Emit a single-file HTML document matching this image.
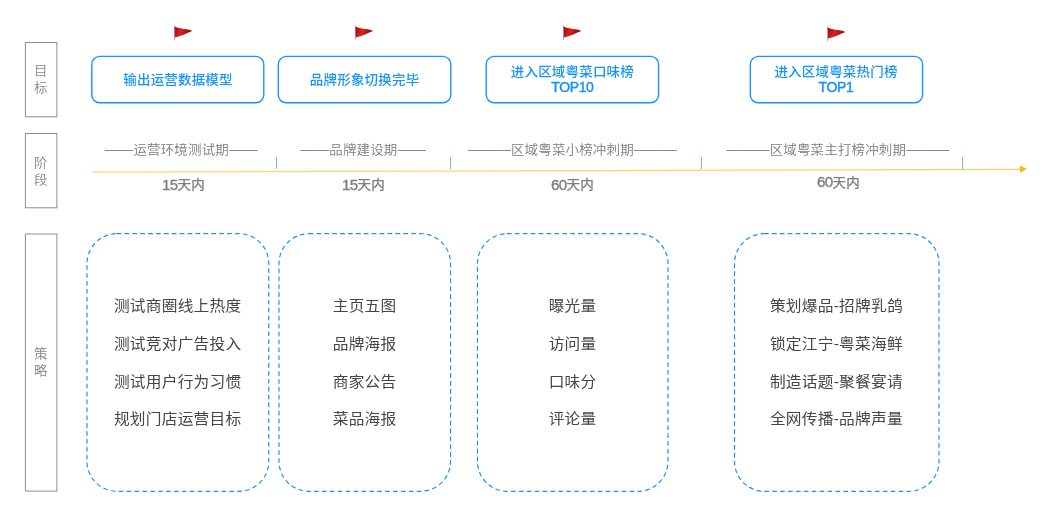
<!DOCTYPE html>
<html lang="zh-CN">
<head>
<meta charset="utf-8">
<title>运营策略路线图</title>
<style>
html,body{margin:0;padding:0;background:#fff;}
body{width:1048px;height:514px;position:relative;overflow:hidden;font-family:"Liberation Sans","Noto Sans CJK SC",sans-serif;}
#bg{position:absolute;left:0;top:0;width:1048px;height:514px;}
.t{position:absolute;white-space:nowrap;text-align:center;transform:translateX(-50%);}
#tx{position:absolute;left:0;top:0;width:1048px;height:514px;will-change:opacity;}
.lab{font-size:13.4px;line-height:16.8px;color:#858585;font-weight:350;white-space:normal;width:15px;transform:translateX(-50%) scaleY(0.96);transform-origin:50% 50%;}
.goal{font-size:13.5px;line-height:15.2px;color:#1593ff;font-weight:500;letter-spacing:0.18px;}
.stage{font-size:13.5px;line-height:16px;color:#7c7c7c;font-weight:350;letter-spacing:0.15px;transform:translateX(-50%) scaleY(0.93);transform-origin:50% 75%;}
.goal b{font-weight:400;font-size:14px;line-height:15px;letter-spacing:-0.35px;-webkit-text-stroke:0.45px #1593ff;position:relative;top:0.4px;}
.goal .c{display:inline-block;transform:scaleY(0.94);transform-origin:50% 65%;}
.days .c{display:inline-block;transform:scaleY(0.93);transform-origin:50% 80%;position:relative;top:-0.55px;}
.days i{font-style:normal;font-size:15.2px;letter-spacing:-0.65px;}
.stage span{font-size:14.35px;line-height:16px;letter-spacing:0;}
.days{font-size:13.5px;line-height:16px;color:#7e7e7e;font-weight:400;-webkit-text-stroke:0.35px #7e7e7e;letter-spacing:0.2px;}
.st{font-size:15.7px;line-height:39.8px;color:#454545;font-weight:400;letter-spacing:0.25px;transform:translateX(-50%) scaleY(0.95);transform-origin:50% 0;}
</style>
</head>
<body>
<svg id="bg" width="1048" height="514" viewBox="0 0 1048 514">
  <defs>
    <linearGradient id="fg" x1="0" y1="0" x2="1" y2="0.25">
      <stop offset="0" stop-color="#aa0303"/>
      <stop offset="0.45" stop-color="#d62424"/>
      <stop offset="0.82" stop-color="#b20808"/>
      <stop offset="1" stop-color="#8a0000"/>
    </linearGradient>
    <linearGradient id="yl" gradientUnits="userSpaceOnUse" x1="92" y1="0" x2="1021" y2="0">
      <stop offset="0" stop-color="#ffda7a"/>
      <stop offset="1" stop-color="#ffcf58"/>
    </linearGradient>
    
  </defs>
  <!-- label boxes -->
  <rect x="25.4" y="42.5" width="31.5" height="74.3" fill="#fff" stroke="#8e8e8e" stroke-width="1"/>
  <rect x="25.4" y="133.5" width="31.5" height="74.3" fill="#fff" stroke="#8e8e8e" stroke-width="1"/>
  <rect x="25.4" y="234" width="31.5" height="257.1" fill="#fff" stroke="#8e8e8e" stroke-width="1"/>
  <!-- flags -->
  <g transform="translate(174.4 25.2)"><line x1="0.1" y1="0" x2="0.1" y2="15.2" stroke="#7c8fa3" stroke-width="0.7"/>
      <path d="M0.3 1.4 C2.6 3.1 8.5 3.5 14.8 4.5 L17.9 5.8 C13 7.6 7 11.2 0.4 12.3 Z" fill="url(#fg)"/></g>
  <g transform="translate(355.2 25.2)"><line x1="0.1" y1="0" x2="0.1" y2="15.2" stroke="#7c8fa3" stroke-width="0.7"/>
      <path d="M0.3 1.4 C2.6 3.1 8.5 3.5 14.8 4.5 L17.9 5.8 C13 7.6 7 11.2 0.4 12.3 Z" fill="url(#fg)"/></g>
  <g transform="translate(563.4 25.2)"><line x1="0.1" y1="0" x2="0.1" y2="15.2" stroke="#7c8fa3" stroke-width="0.7"/>
      <path d="M0.3 1.4 C2.6 3.1 8.5 3.5 14.8 4.5 L17.9 5.8 C13 7.6 7 11.2 0.4 12.3 Z" fill="url(#fg)"/></g>
  <g transform="translate(827.5 26.2)"><line x1="0.1" y1="0" x2="0.1" y2="15.2" stroke="#7c8fa3" stroke-width="0.7"/>
      <path d="M0.3 1.4 C2.6 3.1 8.5 3.5 14.8 4.5 L17.9 5.8 C13 7.6 7 11.2 0.4 12.3 Z" fill="url(#fg)"/></g>
  <!-- goal boxes -->
  <g fill="#fff" stroke="#1593ff" stroke-width="1.4">
    <rect x="91.8" y="56.4" width="172" height="46.4" rx="8" ry="8"/>
    <rect x="278.3" y="56.4" width="172.5" height="46.4" rx="8" ry="8"/>
    <rect x="486.2" y="56.4" width="172.4" height="46.4" rx="8" ry="8"/>
    <rect x="750.3" y="56.4" width="172.3" height="46.4" rx="8" ry="8"/>
  </g>
  <!-- timeline -->
  <line x1="92.4" y1="172" x2="1021" y2="169.25" stroke="url(#yl)" stroke-width="1.25"/>
  <path d="M1020 165.5 L1026.9 169.1 L1020 172.7 Z" fill="#ffb811"/>
  <g stroke="#7fb0e6" stroke-width="1">
    <line x1="276.5" y1="157" x2="276.5" y2="169"/>
    <line x1="450.5" y1="157" x2="450.5" y2="169"/>
    <line x1="701.5" y1="157" x2="701.5" y2="169"/>
    <line x1="962.5" y1="157" x2="962.5" y2="169"/>
  </g>
  <!-- strategy dashed boxes -->
  <g fill="none" stroke="#1593ff" stroke-width="1.2" stroke-dasharray="3.75 4.15" stroke-linecap="round">
    <rect x="87" y="233.65" width="181.75" height="257.65" rx="30" ry="30"/>
    <rect x="279" y="233.65" width="171.55" height="257.65" rx="30" ry="30"/>
    <rect x="477.45" y="233.65" width="190.55" height="257.65" rx="30" ry="30"/>
    <rect x="734.5" y="233.65" width="204.5" height="257.65" rx="30" ry="30"/>
  </g>
</svg>

<div id="tx">
<div class="t lab" style="left:40.8px;top:63.2px;">目标</div>
<div class="t lab" style="left:40.8px;top:154.9px;">阶段</div>
<div class="t lab" style="left:40.8px;top:346.2px;">策略</div>

<div class="t goal" style="left:178px;top:72.1px;"><span class="c">输出运营数据模型</span></div>
<div class="t goal" style="left:364.6px;top:72.1px;"><span class="c">品牌形象切换完毕</span></div>
<div class="t goal" style="left:572.4px;top:64.3px;"><span class="c">进入区域粤菜口味榜</span><br><b>TOP10</b></div>
<div class="t goal" style="left:836px;top:64.3px;"><span class="c">进入区域粤菜热门榜</span><br><b>TOP1</b></div>

<div class="t stage" style="left:181.2px;top:140.8px;"><span>——</span>运营环境测试期<span>——</span></div>
<div class="t stage" style="left:363.4px;top:140.8px;"><span>——</span>品牌建设期<span>——</span></div>
<div class="t stage" style="left:572.4px;top:140.8px;"><span>———</span>区域粤菜小榜冲刺期<span>———</span></div>
<div class="t stage" style="left:837.9px;top:140.8px;"><span>———</span>区域粤菜主打榜冲刺期<span>———</span></div>

<div class="t days" style="left:183.5px;top:176.5px;"><i>15</i><span class="c">天内</span></div>
<div class="t days" style="left:363.5px;top:176.5px;"><i>15</i><span class="c">天内</span></div>
<div class="t days" style="left:572.5px;top:176.5px;"><i>60</i><span class="c">天内</span></div>
<div class="t days" style="left:838.4px;top:174.3px;"><i>60</i><span class="c">天内</span></div>

<div class="t st" style="left:177.7px;top:286.9px;">测试商圈线上热度<br>测试竞对广告投入<br>测试用户行为习惯<br>规划门店运营目标</div>
<div class="t st" style="left:364.6px;top:286.9px;">主页五图<br>品牌海报<br>商家公告<br>菜品海报</div>
<div class="t st" style="left:572.6px;top:286.9px;">曝光量<br>访问量<br>口味分<br>评论量</div>
<div class="t st" style="left:836.4px;top:286.9px;">策划爆品-招牌乳鸽<br>锁定江宁-粤菜海鲜<br>制造话题-聚餐宴请<br>全网传播-品牌声量</div>
</div>
</body>
</html>
